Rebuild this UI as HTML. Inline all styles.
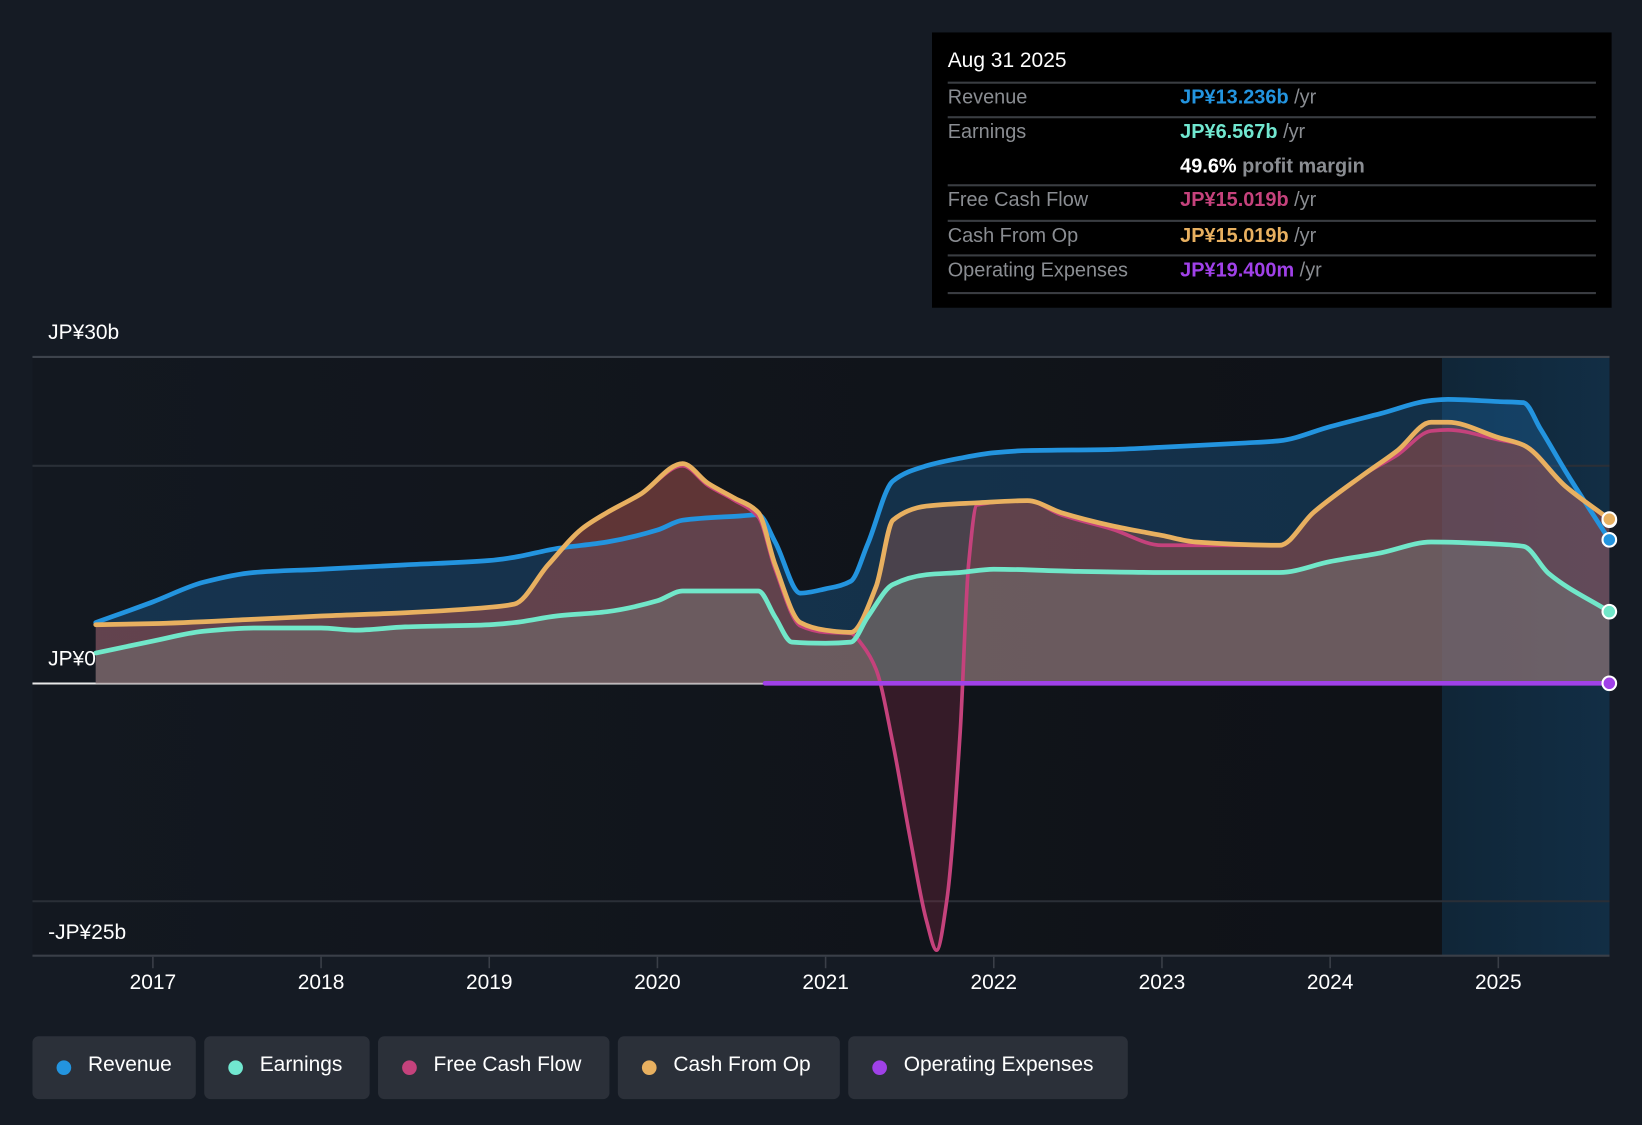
<!DOCTYPE html>
<html><head><meta charset="utf-8">
<style>
html,body{margin:0;padding:0;background:#151b24;overflow:hidden;}
#wrap{position:absolute;left:0;top:0;width:1568px;height:1070px;transform-origin:0 0;transform:scale(1.04719,1.04673);font-family:"Liberation Sans",sans-serif;}
svg text{font-family:"Liberation Sans",sans-serif;}
.tt{position:absolute;left:890px;top:31px;width:649px;height:263px;background:#000;}
.row{position:absolute;left:15px;width:619px;font-size:19px;color:#8a8d92;border-top:2px solid #3a3d42;height:32px;}
.row span.l{position:absolute;left:0;top:3px;}
.row span.v{position:absolute;left:222px;top:3px;font-weight:bold;}
.row span.u{color:#8a8d92;font-weight:normal;}
.legend{position:absolute;top:990px;height:60px;background:#2b3039;border-radius:6px;color:#fff;font-size:20px;}
.legend i{position:absolute;left:23px;top:23px;width:14px;height:14px;border-radius:50%;}
.legend span{position:absolute;left:53px;top:16px;}
</style></head><body>
<div id="wrap">
<svg id="chart" width="1568" height="1070">
<defs>
<linearGradient id="plotbg" x1="0" x2="1" y1="0" y2="0"><stop offset="0" stop-color="#131820"/><stop offset="0.85" stop-color="#0f1217"/><stop offset="1" stop-color="#0f1217"/></linearGradient>
<linearGradient id="hl" x1="0" x2="1"><stop offset="0" stop-color="#10283b"/><stop offset="1" stop-color="#12314a"/></linearGradient>
</defs>
<rect x="31" y="341" width="1506" height="572" fill="url(#plotbg)"/>
<rect x="1377" y="341" width="160" height="572" fill="url(#hl)" opacity="0.9"/>
<g id="grid"></g>
<g id="areas"></g>
<g id="lines"></g>
<g id="dots"></g>
<g id="axis"></g>
</svg>
<div class="tt">
 <div style="position:absolute;left:15px;top:16px;color:#fff;font-size:20px;">Aug 31 2025</div>
 <div class="row" style="top:47px"><span class="l">Revenue</span><span class="v" style="color:#2394df">JP¥13.236b <span class="u">/yr</span></span></div>
 <div class="row" style="top:80px;border:none;height:65px;border-top:2px solid #3a3d42"><span class="l">Earnings</span><span class="v" style="color:#71e7d0">JP¥6.567b <span class="u">/yr</span></span><span class="v" style="top:36px;color:#fff">49.6% <span class="u" style="font-weight:bold">profit margin</span></span></div>
 <div class="row" style="top:145px"><span class="l">Free Cash Flow</span><span class="v" style="color:#c5427c">JP¥15.019b <span class="u">/yr</span></span></div>
 <div class="row" style="top:179px"><span class="l">Cash From Op</span><span class="v" style="color:#e8b060">JP¥15.019b <span class="u">/yr</span></span></div>
 <div class="row" style="top:212px;height:34px;border-bottom:2px solid #3a3d42"><span class="l">Operating Expenses</span><span class="v" style="color:#a041e8">JP¥19.400m <span class="u">/yr</span></span></div>
</div>
<div class="legend" style="left:31px;width:156px"><i style="background:#2394df"></i><span>Revenue</span></div>
<div class="legend" style="left:195px;width:158px"><i style="background:#71e7d0"></i><span>Earnings</span></div>
<div class="legend" style="left:361px;width:221px"><i style="background:#c5427c"></i><span>Free Cash Flow</span></div>
<div class="legend" style="left:590px;width:212px"><i style="background:#e8b060"></i><span>Cash From Op</span></div>
<div class="legend" style="left:810px;width:267px"><i style="background:#a041e8"></i><span>Operating Expenses</span></div>
</div>
<script>
const revT=[2016.66,2017.0,2017.3,2017.6,2018.0,2018.5,2019.0,2019.15,2019.4,2019.7,2020.0,2020.15,2020.5,2020.6,2020.7,2020.85,2021.0,2021.15,2021.25,2021.4,2021.6,2021.8,2022.0,2022.2,2022.7,2023.0,2023.5,2023.7,2024.0,2024.3,2024.6,2024.7,2025.0,2025.15,2025.25,2025.4,2025.66];
const revV=[5.6,7.5,9.3,10.2,10.5,10.9,11.3,11.6,12.4,13.0,14.1,15.0,15.4,15.5,13.0,8.3,8.7,9.4,12.8,18.6,20.0,20.7,21.2,21.4,21.5,21.7,22.1,22.3,23.6,24.8,26.0,26.1,25.9,25.8,23.4,19.5,13.2];
const earnT=[2016.66,2017.0,2017.3,2017.6,2018.0,2018.2,2018.5,2019.0,2019.15,2019.4,2019.7,2020.0,2020.15,2020.6,2020.7,2020.8,2021.0,2021.15,2021.25,2021.4,2021.6,2021.8,2022.0,2022.5,2023.0,2023.7,2024.0,2024.3,2024.6,2025.0,2025.15,2025.3,2025.66];
const earnV=[2.8,3.9,4.8,5.1,5.1,4.9,5.2,5.4,5.6,6.2,6.6,7.6,8.5,8.5,6.1,3.8,3.7,3.8,6.1,9.1,10.0,10.2,10.5,10.3,10.2,10.2,11.2,12.0,13.0,12.8,12.6,10.1,6.6];
const cfoT=[2016.66,2017.0,2017.6,2018.0,2018.5,2019.0,2019.15,2019.35,2019.55,2019.7,2019.9,2020.15,2020.3,2020.45,2020.6,2020.7,2020.85,2021.0,2021.15,2021.3,2021.4,2021.6,2021.9,2022.2,2022.4,2022.7,2023.0,2023.2,2023.7,2023.9,2024.2,2024.4,2024.6,2024.7,2025.0,2025.15,2025.4,2025.66];
const cfoV=[5.4,5.5,5.9,6.2,6.5,7.0,7.3,10.9,14.2,15.7,17.4,20.2,18.4,17.1,15.7,10.9,5.6,4.9,4.7,8.9,15.0,16.3,16.6,16.8,15.7,14.5,13.6,13.0,12.7,15.7,19.2,21.4,24.0,24.0,22.6,21.9,18.1,15.1];
const fcfT=[2016.66,2017.0,2017.6,2018.0,2018.5,2019.0,2019.15,2019.35,2019.55,2019.7,2019.9,2020.15,2020.3,2020.45,2020.6,2020.7,2020.85,2021.0,2021.15,2021.22,2021.3,2021.4,2021.5,2021.6,2021.66,2021.72,2021.8,2021.85,2021.9,2022.2,2022.4,2022.7,2023.0,2023.2,2023.7,2023.9,2024.2,2024.4,2024.6,2024.7,2025.0,2025.15,2025.4,2025.66];
const fcfV=[5.4,5.5,5.9,6.2,6.5,7.0,7.3,10.9,14.2,15.7,17.4,20.0,18.2,16.9,15.3,10.5,5.3,4.7,4.6,3.5,1.3,-5.5,-14.0,-21.8,-24.5,-20.0,-4.5,10.9,16.4,16.8,15.5,14.2,12.7,12.7,12.7,15.7,19.2,21.0,23.2,23.3,22.4,21.9,18.1,15.0];
const opxT=[2020.64,2021.5,2022.5,2023.5,2024.5,2025.66];
const opxV=[0.02,0.02,0.02,0.02,0.02,0.02];
const yTicks=[30,0,-25];
const yTickLabels=["JP¥30b","JP¥0","-JP¥25b"];
const gridVals=[30,20,-20];
const years=[2017,2018,2019,2020,2021,2022,2023,2024,2025];

const X=t=>146+(t-2017)*160.6;
const Y=v=>653-v*10.4;
const NS="http://www.w3.org/2000/svg";
function mk(tag,attrs,parent){const e=document.createElementNS(NS,tag);for(const k in attrs)e.setAttribute(k,attrs[k]);parent.appendChild(e);return e;}
function mono(xs,ys){const n=xs.length;const d=[],m=[];for(let i=0;i<n-1;i++)d.push((ys[i+1]-ys[i])/(xs[i+1]-xs[i]));
 m[0]=d[0];m[n-1]=d[n-2];
 for(let i=1;i<n-1;i++){const h0=xs[i]-xs[i-1],h1=xs[i+1]-xs[i];
  if(d[i-1]*d[i]<=0)m[i]=0;else{const w1=2*h1+h0,w2=h1+2*h0;m[i]=(w1+w2)/(w1/d[i-1]+w2/d[i]);}}
 let p="M"+xs[0]+","+ys[0];for(let i=0;i<n-1;i++){const h=(xs[i+1]-xs[i])/3;p+=" C"+(xs[i]+h)+","+(ys[i]+m[i]*h)+" "+(xs[i+1]-h)+","+(ys[i+1]-m[i+1]*h)+" "+xs[i+1]+","+ys[i+1];}return p;}
const grid=document.getElementById('grid'),areas=document.getElementById('areas'),lines=document.getElementById('lines'),dots=document.getElementById('dots'),axis=document.getElementById('axis');
gridVals.forEach(v=>{const g=mk('line',{x1:31,x2:1537,y1:Y(v),y2:Y(v),stroke:v===30?'#3d434c':'#2a2f37','stroke-width':2},grid);
 
 });
yTicks.forEach((v,i)=>{const t=mk('text',{x:46,y:(v===-25?Y(-25)-16:Y(v)-17),fill:'#fff','font-size':20},axis);t.textContent=yTickLabels[i];
 
 });
const zl=mk('line',{x1:31,x2:740,y1:Y(0),y2:Y(0),stroke:'#e8e8e8','stroke-width':2},grid);


const ax=mk('line',{x1:31,x2:1537,y1:913,y2:913,stroke:'#3a3f48','stroke-width':2},axis);


years.forEach(yr=>{mk('line',{x1:X(yr),x2:X(yr),y1:914,y2:925,stroke:'#3a3f48','stroke-width':1.5},axis);
 const t=mk('text',{x:X(yr),y:945,fill:'#fff','font-size':20,'text-anchor':'middle'},axis);t.textContent=yr;
 
 });
const series=[
 {name:'revenue',T:revT,V:revV,c:'#2394df',fill:'#1f7fc8',fo:0.28},
 {name:'free-cash-flow',T:fcfT,V:fcfV,c:'#c5427c',fill:'#8a3048',fo:0.3},
 {name:'cash-from-op',T:cfoT,V:cfoV,c:'#e8b060',fill:'#b0644f',fo:0.35},
 {name:'earnings',T:earnT,V:earnV,c:'#71e7c9',fill:'#7d8a85',fo:0.35},
 {name:'operating-expenses',T:opxT,V:opxV,c:'#a041e8',fill:'#a041e8',fo:0}
];
series.forEach(s=>{const xs=s.T.map(X),ys=s.V.map(Y);const d=mono(xs,ys);
 if(s.fo>0){const a=mk('path',{d:d+" L"+xs[xs.length-1]+","+Y(0)+" L"+xs[0]+","+Y(0)+" Z",fill:s.fill,'fill-opacity':s.fo},areas);
  
  }
 const l=mk('path',{d:d,fill:'none',stroke:s.c,'stroke-width':s.name==='free-cash-flow'?3.5:4.5,'stroke-linejoin':'round','stroke-linecap':'round'},lines);
 
 
 const c=mk('circle',{cx:xs[xs.length-1],cy:ys[ys.length-1],r:6.5,fill:s.c,stroke:'#fff','stroke-width':2},dots);
 
 });
</script>
</body></html>
